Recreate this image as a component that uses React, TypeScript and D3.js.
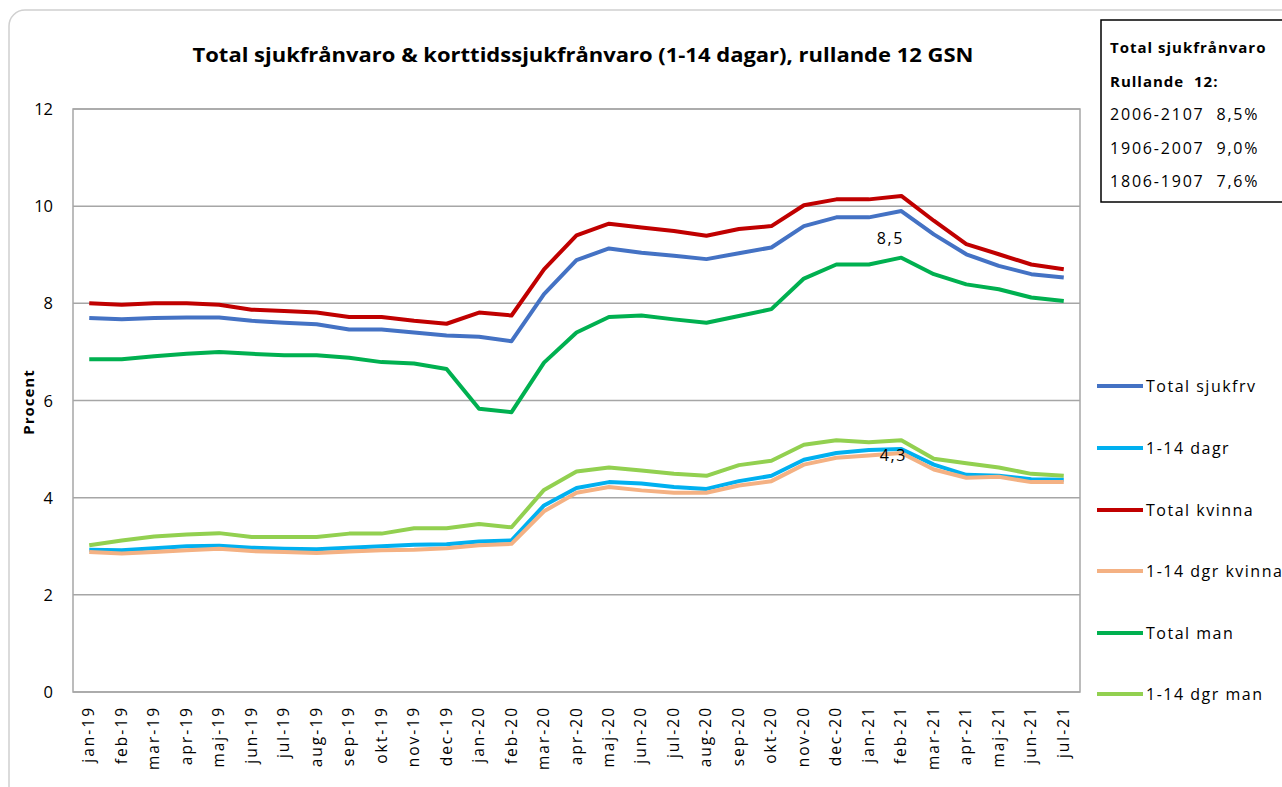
import React from 'react';
import * as d3 from 'd3';

const months = [
  'jan-19', 'feb-19', 'mar-19', 'apr-19', 'maj-19', 'jun-19', 'jul-19', 'aug-19', 'sep-19', 'okt-19', 'nov-19', 'dec-19',
  'jan-20', 'feb-20', 'mar-20', 'apr-20', 'maj-20', 'jun-20', 'jul-20', 'aug-20', 'sep-20', 'okt-20', 'nov-20', 'dec-20',
  'jan-21', 'feb-21', 'mar-21', 'apr-21', 'maj-21', 'jun-21', 'jul-21',
];

const totalSjukfrv = [7.70, 7.67, 7.70, 7.71, 7.71, 7.64, 7.60, 7.57, 7.46, 7.46, 7.40, 7.34, 7.31, 7.22, 8.19,
  8.89, 9.13, 9.04, 8.98, 8.91, 9.03, 9.15, 9.59, 9.77, 9.77, 9.90, 9.42, 9.01, 8.77, 8.60, 8.53];
const dagr = [2.93, 2.92, 2.96, 3.00, 3.01, 2.97, 2.95, 2.94, 2.97, 3.00, 3.03, 3.04, 3.10, 3.12, 3.84,
  4.20, 4.32, 4.29, 4.22, 4.18, 4.34, 4.45, 4.78, 4.92, 4.98, 5.00, 4.68, 4.47, 4.45, 4.38, 4.37];
const totalKvinna = [8.00, 7.97, 8.00, 8.00, 7.97, 7.87, 7.84, 7.81, 7.72, 7.72, 7.64, 7.58, 7.81, 7.75, 8.70,
  9.40, 9.64, 9.56, 9.49, 9.39, 9.53, 9.59, 10.02, 10.14, 10.14, 10.21, 9.70, 9.22, 9.01, 8.80, 8.70];
const dgrKvinna = [2.88, 2.85, 2.88, 2.92, 2.95, 2.90, 2.88, 2.86, 2.89, 2.92, 2.93, 2.96, 3.02, 3.05, 3.72,
  4.10, 4.22, 4.15, 4.10, 4.10, 4.25, 4.34, 4.68, 4.82, 4.87, 4.92, 4.58, 4.41, 4.43, 4.32, 4.32];
const totalMan = [6.85, 6.85, 6.91, 6.96, 7.00, 6.96, 6.93, 6.93, 6.88, 6.79, 6.76, 6.65, 5.83, 5.76, 6.78,
  7.40, 7.72, 7.75, 7.67, 7.60, 7.74, 7.88, 8.51, 8.80, 8.80, 8.94, 8.60, 8.39, 8.29, 8.12, 8.05];
const dgrMan = [3.02, 3.12, 3.20, 3.24, 3.27, 3.19, 3.19, 3.19, 3.26, 3.26, 3.37, 3.37, 3.46, 3.39, 4.16,
  4.54, 4.62, 4.56, 4.49, 4.45, 4.67, 4.76, 5.09, 5.18, 5.14, 5.18, 4.80, 4.71, 4.62, 4.49, 4.45];

const seriesNames = ['Total sjukfrv', '1-14 dagr', 'Total kvinna', '1-14 dgr kvinna', 'Total man', '1-14 dgr man'];
const seriesValues = [totalSjukfrv, dagr, totalKvinna, dgrKvinna, totalMan, dgrMan];
const seriesColors = ['#4472C4', '#00B0F0', '#C00000', '#F4B183', '#00B050', '#92D050'];

const yTicks = [0, 2, 4, 6, 8, 10, 12];
const infoLines = ['Total sjukfrånvaro', 'Rullande  12:', '2006-2107  8,5%', '1906-2007  9,0%', '1806-1907  7,6%'];

const font = "'Open Sans', sans-serif";

export default function App() {
  const width = 1282;
  const height = 787;
  const plot = { left: 73, right: 1080, top: 109, bottom: 692 };

  const x = d3.scalePoint<string>()
    .domain(months)
    .range([plot.left, plot.right])
    .padding(0.5);
  const y = d3.scaleLinear().domain([0, 12]).range([plot.bottom, plot.top]);

  const line = d3.line<number>()
    .x((_, i) => x(months[i]) as number)
    .y(d => y(d));

  const legendY = [386, 448, 510, 571, 633, 694];
  const febX = x('feb-21') as number;

  return (
    <svg width={width} height={height} style={{ position: 'absolute', left: 0, top: 0 }} fontFamily={font}>
      <rect x={0} y={0} width={width} height={height} fill="#fff" />
      <rect x={9} y={10} width={1300} height={800} rx={16} fill="#fff" stroke="#d0d0d0" strokeWidth={1.5} />

      <text x={583} y={62} textAnchor="middle" fontSize={20} fontWeight="bold" fill="#000"
        textLength={781} lengthAdjust="spacingAndGlyphs">
        Total sjukfrånvaro &amp; korttidssjukfrånvaro (1-14 dagar), rullande 12 GSN
      </text>

      {yTicks.map(t => (
        <g key={t}>
          <line x1={plot.left} x2={plot.right} y1={y(t)} y2={y(t)} stroke="#a6a6a6" strokeWidth={1.5} />
          <text x={53} y={y(t) + 6} textAnchor="end" fontSize={16.5} fill="#000">{t}</text>
        </g>
      ))}
      <rect x={plot.left} y={plot.top} width={plot.right - plot.left} height={plot.bottom - plot.top}
        fill="none" stroke="#a6a6a6" strokeWidth={1.5} />

      <text transform={`translate(34,402) rotate(-90)`} textAnchor="middle" fontSize={15} fontWeight="bold"
        letterSpacing={1} fill="#000">
        Procent
      </text>

      {months.map(m => (
        <text key={m} transform={`translate(${(x(m) as number) + 5},706) rotate(-90)`} textAnchor="end"
          fontSize={15.5} letterSpacing={2} fill="#000">{m}</text>
      ))}

      {seriesValues.map((vals, i) => (
        <path key={seriesNames[i]} d={line(vals) || ''} fill="none" stroke={seriesColors[i]}
          strokeWidth={4} strokeLinejoin="round" />
      ))}

      <text x={febX - 11} y={244} textAnchor="middle" fontSize={16} letterSpacing={1.5} fill="#000">8,5</text>
      <text x={febX - 8} y={461} textAnchor="middle" fontSize={16} letterSpacing={1.5} fill="#000">4,3</text>

      {seriesNames.map((name, i) => (
        <g key={name}>
          <line x1={1097} x2={1143} y1={legendY[i]} y2={legendY[i]} stroke={seriesColors[i]} strokeWidth={4} />
          <text x={1146} y={legendY[i] + 6} fontSize={16} letterSpacing={1.5} fill="#000">{name}</text>
        </g>
      ))}

      <rect x={1101} y={20} width={200} height={182} fill="#fff" stroke="#000" strokeWidth={1.5} />
      {infoLines.map((l, i) => (
        <text key={l} x={1110} y={53 + i * 33.5} fontSize={i < 2 ? 15 : 16} fontWeight={i < 2 ? 'bold' : 'normal'}
          letterSpacing={i < 2 ? 1 : 1.8} fill="#000" style={{ whiteSpace: 'pre' }}>{l}</text>
      ))}
    </svg>
  );
}
